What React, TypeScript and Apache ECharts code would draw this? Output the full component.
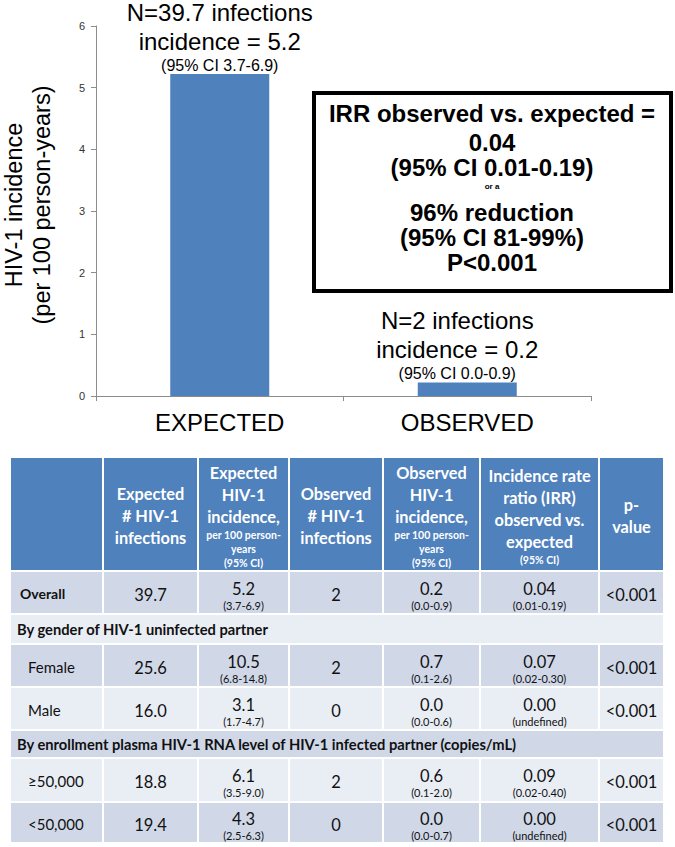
import React, { useEffect, useRef } from 'react';
import * as echarts from 'echarts';

// ---- Bar chart data ----
const categories = ['EXPECTED', 'OBSERVED'];
const incidence = [5.22, 0.22];
const infectionLabels = ['N=39.7 infections', 'N=2 infections'];
const incidenceLabels = ['incidence = 5.2', 'incidence = 0.2'];
const ciLabels = ['(95% CI 3.7-6.9)', '(95% CI 0.0-0.9)'];
const yAxisTitle = ['HIV-1 incidence', '(per 100 person-years)'];

// ---- IRR box text ----
const irrBoxLines = [
  'IRR observed vs. expected =',
  '0.04',
  '(95% CI 0.01-0.19)',
  'or a',
  '96% reduction',
  '(95% CI 81-99%)',
  'P<0.001',
];

// ---- Table data ----
const headerBig = [
  [],
  ['Expected', '# HIV-1', 'infections'],
  ['Expected', 'HIV-1', 'incidence,'],
  ['Observed', '# HIV-1', 'infections'],
  ['Observed', 'HIV-1', 'incidence,'],
  ['Incidence rate', 'ratio (IRR)', 'observed vs.', 'expected'],
  ['p-', 'value'],
];
const headerSmall = [
  [],
  [],
  ['per 100 person-', 'years', '(95% CI)'],
  [],
  ['per 100 person-', 'years', '(95% CI)'],
  ['(95% CI)'],
  [],
];
const rowLabels = ['Overall', 'Female', 'Male', '≥50,000', '<50,000'];
const expectedN = ['39.7', '25.6', '16.0', '18.8', '19.4'];
const expectedInc = ['5.2', '10.5', '3.1', '6.1', '4.3'];
const expectedIncCI = ['(3.7-6.9)', '(6.8-14.8)', '(1.7-4.7)', '(3.5-9.0)', '(2.5-6.3)'];
const observedN = ['2', '2', '0', '2', '0'];
const observedInc = ['0.2', '0.7', '0.0', '0.6', '0.0'];
const observedIncCI = ['(0.0-0.9)', '(0.1-2.6)', '(0.0-0.6)', '(0.1-2.0)', '(0.0-0.7)'];
const irrValues = ['0.04', '0.07', '0.00', '0.09', '0.00'];
const irrCI = ['(0.01-0.19)', '(0.02-0.30)', '(undefined)', '(0.02-0.40)', '(undefined)'];
const pValues = ['<0.001', '<0.001', '<0.001', '<0.001', '<0.001'];
const sectionTitles = [
  'By gender of HIV-1 uninfected partner',
  'By enrollment plasma HIV-1 RNA level of HIV-1 infected partner (copies/mL)',
];
// row order: data 0, section 0, data 1, data 2, section 1, data 3, data 4
const rowOrder = ['d0', 's0', 'd1', 'd2', 's1', 'd3', 'd4'];

const ARIAL = 'Arial, "Liberation Sans", sans-serif';
const CAL = 'Lato, "Open Sans", sans-serif';
const BLUE = '#4F81BD';
const DARK = '#D0D8E8';
const LIGHT = '#E9EDF4';

function buildGraphics() {
  const g: any[] = [];
  // Y axis title
  g.push({
    type: 'text',
    x: 28,
    y: 205,
    rotation: Math.PI / 2,
    style: {
      text: yAxisTitle.join('\n'),
      font: `23.5px ${ARIAL}`,
      lineHeight: 28,
      fill: '#000',
      align: 'center',
      verticalAlign: 'middle',
    },
  });
  // IRR box
  g.push({
    type: 'rect',
    shape: { x: 314, y: 93, width: 357, height: 198 },
    style: { fill: '#fff', stroke: '#000', lineWidth: 4 },
  });
  const boxY = [113, 142, 167, 186, 212, 237, 262];
  irrBoxLines.forEach((t, i) => {
    g.push({
      type: 'text',
      x: 492,
      y: boxY[i],
      style: {
        text: t,
        font: `bold ${i === 3 ? 8 : 24}px ${ARIAL}`,
        fill: '#000',
        align: 'center',
        verticalAlign: 'middle',
      },
    });
  });

  // Table
  const colX = [10, 103, 198, 289, 383, 480, 599, 664];
  const headTop = 458;
  const rowY = [571, 614, 644, 687, 730, 758, 802, 843];
  const gap = 1;
  // header cells
  for (let c = 0; c < 7; c++) {
    g.push({
      type: 'rect',
      shape: { x: colX[c] + gap, y: headTop, width: colX[c + 1] - colX[c] - 2 * gap, height: rowY[0] - headTop - gap },
      style: { fill: BLUE },
    });
    const big = headerBig[c];
    const small = headerSmall[c];
    if (big.length) {
      const parts = big.map((s) => `{b|${s}}`).concat(small.map((s) => `{s|${s}}`));
      g.push({
        type: 'text',
        x: (colX[c] + colX[c + 1]) / 2,
        y: (headTop + rowY[0]) / 2 + 1,
        style: {
          text: parts.join('\n'),
          align: 'center',
          verticalAlign: 'middle',
          fill: '#fff',
          rich: {
            b: { fontSize: 16.3, fontWeight: 'bold', fontFamily: CAL, lineHeight: 22, fill: '#fff', align: 'center' },
            s: { fontSize: 10.5, fontWeight: 'bold', fontFamily: CAL, lineHeight: 14, fill: '#fff', align: 'center' },
          },
        },
      });
    }
  }
  // body rows
  rowOrder.forEach((kind, r) => {
    const y0 = rowY[r];
    const y1 = rowY[r + 1];
    const fill = r % 2 === 0 ? DARK : LIGHT;
    const cy = (y0 + y1) / 2;
    if (kind[0] === 's') {
      const si = Number(kind.slice(1));
      g.push({
        type: 'rect',
        shape: { x: colX[0] + gap, y: y0 + gap, width: colX[7] - colX[0] - 2 * gap, height: y1 - y0 - 2 * gap },
        style: { fill },
      });
      g.push({
        type: 'text',
        x: 17,
        y: cy,
        style: {
          text: sectionTitles[si],
          font: `bold 14.7px ${CAL}`,
          fill: '#111',
          align: 'left',
          verticalAlign: 'middle',
        },
      });
      return;
    }
    const di = Number(kind.slice(1));
    for (let c = 0; c < 7; c++) {
      g.push({
        type: 'rect',
        shape: { x: colX[c] + gap, y: y0 + gap, width: colX[c + 1] - colX[c] - 2 * gap, height: y1 - y0 - 2 * gap },
        style: { fill },
      });
    }
    g.push({
      type: 'text',
      x: di === 0 ? 20 : 28,
      y: cy + 1,
      style: {
        text: rowLabels[di],
        font: di === 0 ? `bold 14px ${CAL}` : `15px ${CAL}`,
        fill: '#111',
        align: 'left',
        verticalAlign: 'middle',
      },
    });
    const singles: [number, string][] = [
      [1, expectedN[di]],
      [3, observedN[di]],
      [6, pValues[di]],
    ];
    singles.forEach(([c, t]) => {
      g.push({
        type: 'text',
        x: (colX[c] + colX[c + 1]) / 2,
        y: cy + 2,
        style: { text: t, font: `16.5px ${CAL}`, fill: '#111', align: 'center', verticalAlign: 'middle' },
      });
    });
    const doubles: [number, string, string][] = [
      [2, expectedInc[di], expectedIncCI[di]],
      [4, observedInc[di], observedIncCI[di]],
      [5, irrValues[di], irrCI[di]],
    ];
    doubles.forEach(([c, t, ci]) => {
      g.push({
        type: 'text',
        x: (colX[c] + colX[c + 1]) / 2,
        y: cy + 3,
        style: {
          text: `{n|${t}}\n{c|${ci}}`,
          align: 'center',
          verticalAlign: 'middle',
          rich: {
            n: { fontSize: 16.5, fontFamily: CAL, lineHeight: 19, fill: '#111', align: 'center' },
            c: { fontSize: 11, fontFamily: CAL, lineHeight: 14, fill: '#111', align: 'center' },
          },
        },
      });
    });
  });
  return g;
}

export default function App() {
  const ref = useRef<HTMLDivElement>(null);
  useEffect(() => {
    if (!ref.current) return;
    const chart = echarts.init(ref.current, undefined, { renderer: 'svg' });
    chart.setOption({
      animation: false,
      backgroundColor: '#fff',
      grid: { left: 96, right: 84, top: 26, bottom: 451, containLabel: false },
      xAxis: {
        type: 'category',
        data: categories,
        axisLine: { show: true, lineStyle: { color: '#8c8c8c', width: 1 } },
        axisTick: { show: true, alignWithLabel: false, length: 5, lineStyle: { color: '#8c8c8c' } },
        axisLabel: { fontSize: 24, fontFamily: ARIAL, color: '#000', margin: 14 },
      },
      yAxis: {
        type: 'value',
        min: 0,
        max: 6,
        interval: 1,
        axisLine: { show: true, lineStyle: { color: '#8c8c8c', width: 1 } },
        axisTick: { show: true, length: 5, lineStyle: { color: '#8c8c8c' } },
        axisLabel: { fontSize: 11, fontFamily: ARIAL, color: '#333', margin: 11 },
        splitLine: { show: false },
      },
      series: [
        {
          type: 'bar',
          barWidth: '40%',
          itemStyle: { color: BLUE },
          data: incidence.map((v, i) => ({
            value: v,
            label: { offset: i === 1 ? [-10, 0] : [0, 0] },
          })),
          label: {
            show: true,
            position: 'top',
            distance: 0,
            formatter: (p: any) =>
              `{a|${infectionLabels[p.dataIndex]}}\n{a|${incidenceLabels[p.dataIndex]}}\n{b|${ciLabels[p.dataIndex]}}`,
            rich: {
              a: { fontSize: 24, fontFamily: ARIAL, color: '#000', lineHeight: 29, align: 'center' },
              b: { fontSize: 16, fontFamily: ARIAL, color: '#000', lineHeight: 18, align: 'center' },
            },
          },
        },
      ],
      graphic: buildGraphics(),
    });
    return () => chart.dispose();
  }, []);
  return (
    <div
      ref={ref}
      style={{ position: 'absolute', left: 0, top: 0, width: 675, height: 847 }}
    />
  );
}
